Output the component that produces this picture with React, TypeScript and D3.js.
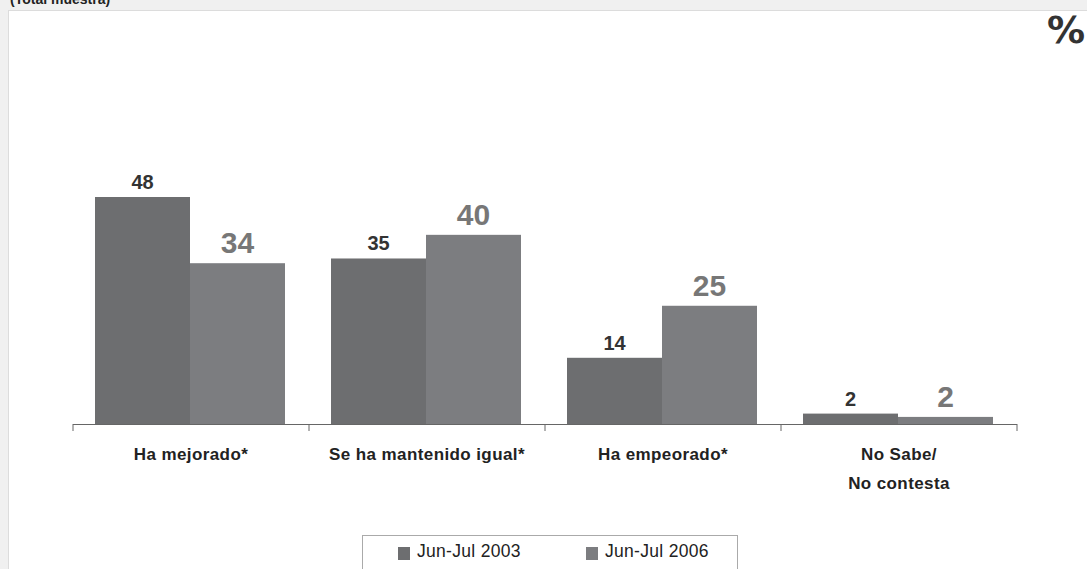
import React from "react";
import * as d3 from "d3";

const categories = ["Ha mejorado*", "Se ha mantenido igual*", "Ha empeorado*", "No Sabe/\nNo contesta"];
const series2003 = [48, 35, 14, 2.2];
const series2006 = [34, 40, 25, 1.5];
const seriesNames = ["Jun-Jul 2003", "Jun-Jul 2006"];
const colors = ["#6d6e70", "#7c7d80"];

const W = 1087, H = 569;
const FONT = "'Liberation Sans', Arial, sans-serif";
const FONT2 = "'DejaVu Sans', Verdana, sans-serif";

export default function App() {
  const x0 = d3.scaleBand<string>().domain(categories).range([73, 1017]).paddingInner(0).paddingOuter(0);
  const x1 = d3.scaleBand<string>().domain(seriesNames).range([22, 212]).paddingOuter(0).paddingInner(0);
  const y = d3.scaleLinear().domain([0, 48]).range([424, 197]);
  const all = [series2003, series2006];
  const ticks = categories.map((c) => x0(c)!).concat([x0.range()[1]]);

  return (
    <svg width={W} height={H} style={{ position: "absolute", left: 0, top: 0 }} xmlns="http://www.w3.org/2000/svg">
      <rect x={0} y={0} width={W} height={H} fill="#f0f0f0" />
      <text x={10} y={4} fontFamily={FONT} fontWeight="bold" fontSize={14} fill="#222">(Total muestra)</text>
      <rect x={8.5} y={10.5} width={W} height={H} fill="#ffffff" stroke="#dcdcdc" />
      <text x={1085} y={43} textAnchor="end" fontFamily={FONT2} fontWeight="bold" fontSize={38} fill="#333">%</text>
      {all.map((s, si) =>
        categories.map((c, ci) => {
          const bx = x0(c)! + x1(seriesNames[si])!;
          const by = y(s[ci]);
          return (
            <g key={`${si}-${ci}`}>
              <rect x={bx} y={by} width={x1.bandwidth()} height={y(0) - by} fill={colors[si]} />
              <text
                x={bx + x1.bandwidth() / 2}
                y={by - (si === 0 ? 8 : 10)}
                textAnchor="middle"
                fontFamily={FONT}
                fontWeight="bold"
                fontSize={si === 0 ? 20 : 30}
                fill={si === 0 ? "#333" : "#777"}
              >
                {Math.round(s[ci])}
              </text>
            </g>
          );
        })
      )}
      <line x1={73} x2={1017} y1={424.5} y2={424.5} stroke="#666" strokeWidth={1.2} />
      {ticks.map((t, i) => (
        <line key={i} x1={t} x2={t} y1={424} y2={431} stroke="#666" strokeWidth={1} />
      ))}
      {categories.map((c) =>
        c.split("\n").map((line, li) => (
          <text
            key={c + li}
            x={x0(c)! + x0.bandwidth() / 2}
            y={460 + li * 29}
            textAnchor="middle"
            fontFamily={FONT}
            fontWeight="bold"
            fontSize={17}
            letterSpacing={0.4}
            fill="#222"
          >
            {line}
          </text>
        ))
      )}
      <rect x={362.5} y={535.5} width={375} height={60} fill="#fff" stroke="#aaa" />
      {seriesNames.map((n, i) => (
        <g key={n}>
          <rect x={398 + i * 188} y={547} width={12} height={13} fill={colors[i]} />
          <text x={417 + i * 188} y={557} fontFamily={FONT} fontSize={17.5} letterSpacing={0.3} fill="#222">{n}</text>
        </g>
      ))}
    </svg>
  );
}
